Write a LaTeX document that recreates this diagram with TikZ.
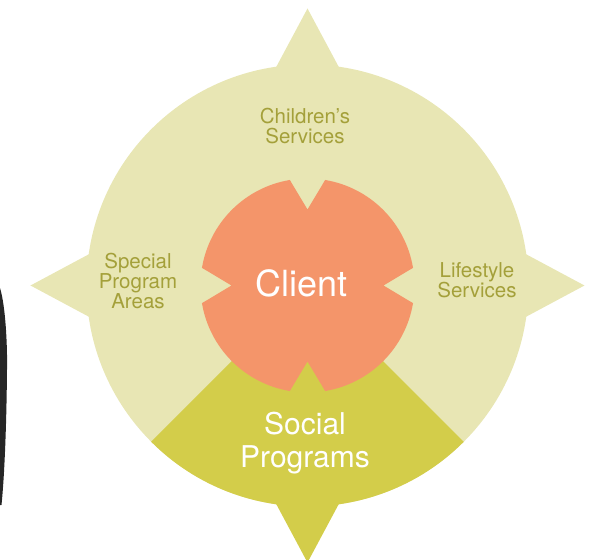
\documentclass[tikz,border=0pt]{standalone}
\usepackage{fontspec}
\setmainfont{TeX Gyre Heros}
\usepackage{tikz}
\definecolor{paleolive}{HTML}{E8E6B4}
\definecolor{socialgreen}{HTML}{D3CD4A}
\definecolor{clientorange}{HTML}{F4956A}
\definecolor{labelolive}{HTML}{A4A03A}
\tikzstyle{ring} = [fill=paleolive]
\tikzstyle{socialpart} = [fill=socialgreen]
\tikzstyle{clientpart} = [fill=clientorange]
\tikzstyle{service} = [align=center, text=labelolive, font=\fontsize{20.5}{20}\selectfont]
\tikzstyle{bigword} = [align=center, text=white]

\begin{document}
\begin{tikzpicture}[x=1pt,y=1pt]
\useasboundingbox (-307.5,-274.5) rectangle (290.5,285.5);

% outer disc with three pale arrows
\fill[ring] (0,0) circle (221);
\foreach \a in {90,180,0}
  \fill[ring] (\a+8.3:220) -- (\a:277) -- (\a-8.3:220) -- cycle;

% social programs wedge and its arrow
\fill[socialpart] (0,0) -- (-135:221) arc (-135:-45:221) -- cycle;
\fill[socialpart] (-81.7:220) -- (-90:277) -- (-98.3:220) -- cycle;

% notched client disc
\fill[clientpart] (99.5:107) -- (90:76) -- (80.5:107) arc (80.5:9.5:107)
  -- (0:76) -- (-9.5:107) arc (-9.5:-80.5:107)
  -- (-90:76) -- (-99.5:107) arc (-99.5:-170.5:107)
  -- (180:76) -- (170.5:107) arc (170.5:99.5:107) -- cycle;

% dark edge at the left border
\fill[black!85] (-307.5,-2.5) .. controls (-302,-20) and (-300,-60) .. (-300.5,-84.5)
  .. controls (-301,-140) and (-303,-190) .. (-306,-219.5) -- (-307.5,-219.5) -- cycle;

\node [service] (children) at (-2.5,159.5) {Children's\\Services};
\node [service] (special) at (-169.5,4.5) {Special\\Program\\Areas};
\node [service] (lifestyle) at (169.5,5.5) {Lifestyle\\Services};
\node [bigword, font=\fontsize{36}{40}\selectfont] (client) at (-5.5,2.5) {Client};
\node [bigword, font=\fontsize{30}{33}\selectfont] (social) at (-2.5,-157.5) {Social\\Programs};

\end{tikzpicture}
\end{document}
